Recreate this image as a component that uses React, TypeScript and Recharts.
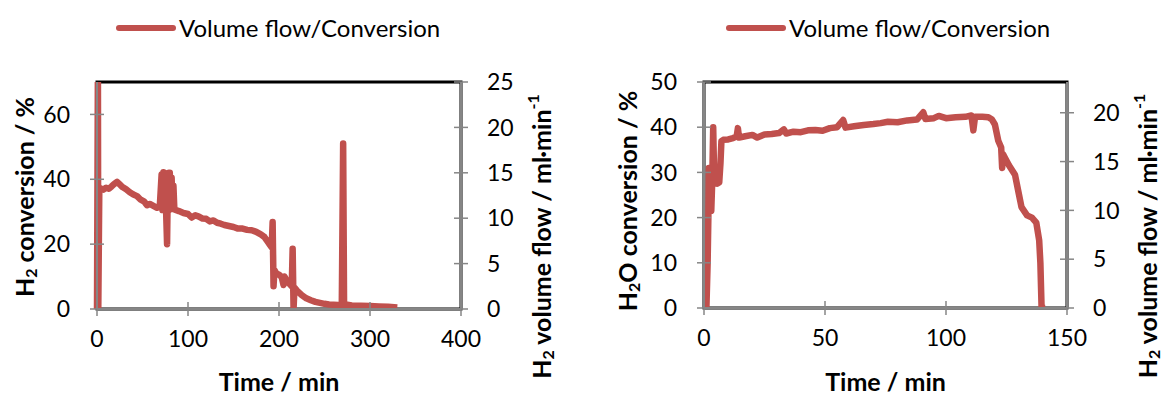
import React from 'react';
import {
  LineChart,
  Line,
  XAxis,
  YAxis,
  ReferenceArea,
  Legend,
  Label,
} from 'recharts';

// H2 conversion run (left panel)
const h2Time = [
  0, 1, 1.4, 2.5, 4, 7, 10, 13, 16, 19, 22, 25, 28, 32, 36, 40, 44, 48, 52, 55, 58, 62, 66, 69,
  71, 72, 73, 74, 75, 76, 77, 78, 79, 80, 81, 82, 83, 84, 85, 90, 95, 100, 104, 108, 112, 116,
  120, 124, 128, 132, 136, 140, 145, 150, 155, 160, 165, 170, 175, 180, 184, 187, 190, 192,
  193, 194, 195, 197, 200, 203, 205, 206, 209, 212, 214, 215, 216, 217, 220, 225, 230, 235,
  240, 245, 250, 255, 260, 265, 269, 270.5, 271.5, 275, 280, 290, 300, 310, 320, 330,
];
const h2Conversion = [
  0, 75, 0, 36, 37.2, 36.8, 37.4, 37.1, 37.8, 38.6, 39.2, 38.4, 37.6, 36.9, 36, 35.3, 34.8, 33.7,
  33.1, 32, 32.4, 31.8, 31.2, 31.6,
  41.5, 30.5, 42.2, 31, 41.8, 29.5, 20, 41.9, 30.5, 42, 31, 40.5, 30.8, 38, 30.7, 30.2, 29.6,
  29.3, 28.2, 28.9, 28.5, 27.9, 27.8, 27, 27.3, 26.6, 26.3, 25.9, 25.6, 25.3, 24.8, 24.8, 24.4,
  24.3, 23.8, 23, 22.2, 21, 19.8, 19, 26.8, 7, 12, 11, 10.6, 9.8, 7.4, 10, 8.5, 7.6, 7, 18.6,
  0, 6.6, 5.6, 4.3, 3.3, 2.7, 2.2, 1.9, 1.6, 1.4, 1.3, 1.2, 1.2, 51, 1.4, 1.3, 1.1, 1, 0.9,
  0.8, 0.7, 0.5,
];

// H2O conversion run (right panel)
const h2oTime = [
  1, 1.5, 1.8, 2, 2.6, 3, 3.4, 3.8, 4.2, 4.8, 5.5, 6.3, 6.8, 7.2, 8, 10, 12, 13.5, 14, 14.5, 17,
  20, 22, 25, 28, 31, 33, 34, 37, 40, 43, 46, 49, 52, 55, 57.5, 58.5, 62, 66, 70, 73, 76, 80,
  84, 88, 90.6, 91.5, 95, 97, 100, 104, 108, 110.5, 111.3, 112, 115, 117.5, 119, 120.2, 121.6,
  122.8, 123.2, 123.6, 124.4, 126, 128.5, 130, 131.2, 133.5, 135.5, 137.3, 138.5, 139, 139.5,
  141,
];
const h2oConversion = [
  0, 10, 20, 31, 31, 21.5, 28, 40, 29, 28, 27.5, 27.8, 32, 36.9, 37.2, 37.3, 37.6, 38, 39.8,
  37.7, 38, 38.3, 37.7, 38.4, 38.5, 38.7, 39.5, 38.6, 39, 38.9, 39.3, 39.4, 39.2, 39.8, 40,
  41.6, 39.9, 40.2, 40.5, 40.7, 40.9, 41.2, 41.1, 41.5, 41.7, 43.3, 41.8, 42, 42.5, 42, 42.2,
  42.3, 42.6, 39.3, 42.3, 42.3, 42.2, 41.7, 40.6, 37, 35.5, 31, 34, 33.2, 31.6, 29.5, 25.5,
  22.3, 20.5, 20, 18.9, 15, 10, 0, 0,
];

const h2TimeTicks = [0, 100, 200, 300, 400];
const h2ConvTicks = [0, 20, 40, 60];
const h2FlowTicksA = [0, 5, 10, 15, 20, 25];
const h2oTimeTicks = [0, 50, 100, 150];
const h2oConvTicks = [0, 10, 20, 30, 40, 50];
const h2FlowTicksB = [0, 5, 10, 15, 20];

const h2Data = h2Time.map((t, i) => ({ t, v: h2Conversion[i] }));
const h2oData = h2oTime.map((t, i) => ({ t, v: h2oConversion[i] }));

const RED = '#C0504D';
const AXIS = '#868686';
const FONT = 'Lato, "DejaVu Sans", sans-serif';
const tickStyle = { fontSize: 23, fill: '#000', fontFamily: FONT };

type Part = { text: string; shift?: number; small?: boolean };

const AxisTitle = (props: any) => {
  const { viewBox, parts, dx = 0, dy = 0, vertical } = props;
  const cx = vertical ? viewBox.x + dx : viewBox.x + viewBox.width / 2 + dx;
  const cy = vertical ? viewBox.y + viewBox.height / 2 + dy : viewBox.y + dy;
  let prev = 0;
  return (
    <text
      transform={`translate(${cx},${cy})${vertical ? ' rotate(-90)' : ''}`}
      textAnchor="middle"
      dominantBaseline="central"
      fontFamily={FONT}
      fontWeight="bold"
      fontSize={25}
      fill="#000"
    >
      {(parts as Part[]).map((p, i) => {
        const s = p.shift || 0;
        const d = s - prev;
        prev = s;
        return (
          <tspan key={i} dy={d} fontSize={p.small ? 16 : 25}>
            {p.text}
          </tspan>
        );
      })}
    </text>
  );
};

const LegendBox = ({ lineW }: { lineW: number }) => (
  <div style={{ display: 'flex', alignItems: 'center', fontFamily: FONT, fontSize: 24 }}>
    <svg width={lineW} height={10} style={{ marginRight: 3 }}>
      <line x1={3} y1={5} x2={lineW - 3} y2={5} stroke={RED} strokeWidth={6} strokeLinecap="round" />
    </svg>
    <span style={{ whiteSpace: 'nowrap' }}>Volume flow/Conversion</span>
  </div>
);

const h2ConvTitle: Part[] = [
  { text: 'H' },
  { text: '2', shift: 6, small: true },
  { text: ' conversion / %', shift: 0 },
];
const h2oConvTitle: Part[] = [
  { text: 'H' },
  { text: '2', shift: 6, small: true },
  { text: 'O conversion / %', shift: 0 },
];
const flowTitle: Part[] = [
  { text: 'H' },
  { text: '2', shift: 6, small: true },
  { text: ' volume flow / ml·min', shift: 0 },
  { text: '-1', shift: -9, small: true },
];
const timeTitle: Part[] = [{ text: 'Time / min' }];

const crossY = (dir: number) => ({ stroke: AXIS, strokeWidth: 1.5, transform: `translate(${dir * 7},0)` });
const crossX = { stroke: AXIS, strokeWidth: 1.5, transform: 'translate(0,-7)' };
const axisLine = { stroke: AXIS, strokeWidth: 2 };

export default function App() {
  return (
    <div style={{ position: 'absolute', left: 0, top: 0, width: 1161, height: 396, background: '#fff' }}>
      <div style={{ position: 'absolute', left: 0, top: 0 }}>
        <LineChart width={580} height={396} data={h2Data} margin={{ top: 82, right: 59, bottom: 47, left: 37 }}>
          <Legend
            verticalAlign="middle"
            content={() => <LegendBox lineW={60} />}
            wrapperStyle={{ top: 13, left: 116, width: 360 }}
          />
          <XAxis
            dataKey="t"
            type="number"
            domain={[0, 400]}
            ticks={h2TimeTicks}
            height={40}
            axisLine={axisLine}
            tickLine={crossX}
            tickSize={14}
            tickMargin={8}
            tick={tickStyle}
          >
            <Label content={<AxisTitle parts={timeTitle} dy={72} />} />
          </XAxis>
          <YAxis
            yAxisId="left"
            domain={[0, 70]}
            ticks={h2ConvTicks}
            allowDataOverflow
            width={60}
            axisLine={axisLine}
            tickLine={crossY(1)}
            tickSize={14}
            tickMargin={13}
            tick={tickStyle}
          >
            <Label content={<AxisTitle parts={h2ConvTitle} vertical dx={-13} dy={1.5} />} />
          </YAxis>
          <YAxis
            yAxisId="right"
            orientation="right"
            type="number"
            domain={[0, 25]}
            ticks={h2FlowTicksA}
            allowDataOverflow
            width={60}
            axisLine={axisLine}
            tickLine={crossY(-1)}
            tickSize={14}
            tickMargin={12}
            tick={tickStyle}
          >
            <Label content={<AxisTitle parts={flowTitle} vertical dx={80} dy={41} />} />
          </YAxis>
          <ReferenceArea yAxisId="left" x1={0} x2={400} y1={0} y2={70} fill="none" stroke="#000" strokeWidth={3} />
          <Line
            yAxisId="left"
            type="linear"
            dataKey="v"
            stroke={RED}
            strokeWidth={6.5}
            dot={false}
            strokeLinejoin="round"
            isAnimationActive={false}
          />
        </LineChart>
      </div>
      <div style={{ position: 'absolute', left: 580, top: 0 }}>
        <LineChart width={581} height={396} data={h2oData} margin={{ top: 82, right: 34, bottom: 48, left: 64 }}>
          <Legend
            verticalAlign="middle"
            content={() => <LegendBox lineW={60} />}
            wrapperStyle={{ top: 13, left: 146, width: 360 }}
          />
          <XAxis
            dataKey="t"
            type="number"
            domain={[0, 150]}
            ticks={h2oTimeTicks}
            height={40}
            axisLine={axisLine}
            tickLine={crossX}
            tickSize={14}
            tickMargin={8}
            tick={tickStyle}
          >
            <Label content={<AxisTitle parts={timeTitle} dy={73} />} />
          </XAxis>
          <YAxis
            yAxisId="left"
            domain={[0, 50]}
            ticks={h2oConvTicks}
            allowDataOverflow
            width={60}
            axisLine={axisLine}
            tickLine={crossY(1)}
            tickSize={14}
            tickMargin={13}
            tick={tickStyle}
          >
            <Label content={<AxisTitle parts={h2oConvTitle} vertical dx={-17} dy={6} />} />
          </YAxis>
          <YAxis
            yAxisId="right"
            orientation="right"
            type="number"
            domain={[0, 23.15]}
            ticks={h2FlowTicksB}
            allowDataOverflow
            width={60}
            axisLine={axisLine}
            tickLine={crossY(-1)}
            tickSize={14}
            tickMargin={12}
            tick={tickStyle}
          >
            <Label content={<AxisTitle parts={flowTitle} vertical dx={80} dy={41} />} />
          </YAxis>
          <ReferenceArea yAxisId="left" x1={0} x2={150} y1={0} y2={50} fill="none" stroke="#000" strokeWidth={3} />
          <Line
            yAxisId="left"
            type="linear"
            dataKey="v"
            stroke={RED}
            strokeWidth={6.5}
            dot={false}
            strokeLinejoin="round"
            isAnimationActive={false}
          />
        </LineChart>
      </div>
    </div>
  );
}
